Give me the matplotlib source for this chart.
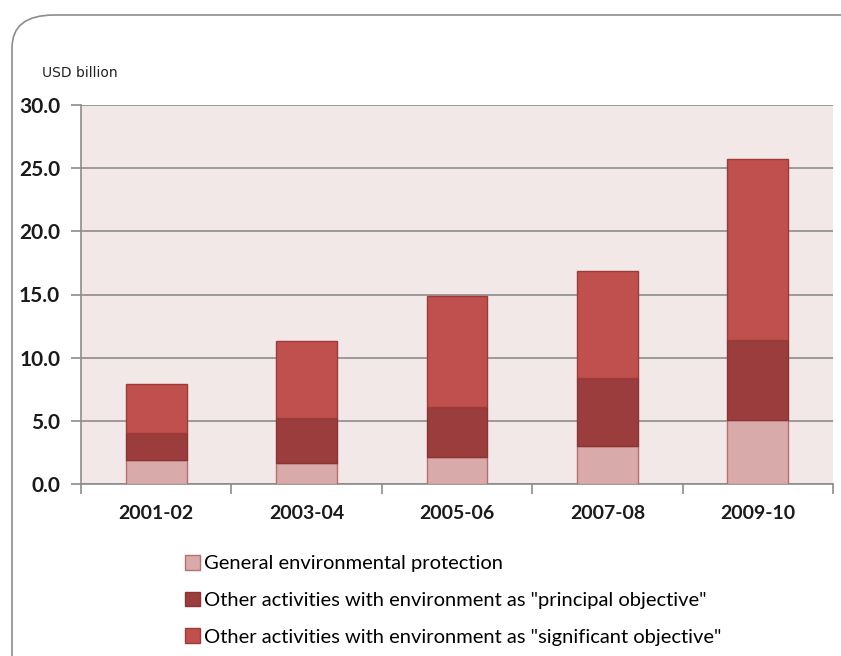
import numpy as np
import matplotlib.pyplot as plt
from matplotlib.patches import FancyBboxPatch, Patch

periods = ["2001-02", "2003-04", "2005-06", "2007-08", "2009-10"]
general = [1.9, 1.7, 2.1, 3.0, 5.1]
principal = [2.1, 3.5, 4.0, 5.4, 6.3]
significant = [3.9, 6.1, 8.8, 8.45, 14.3]
series_names = ["General environmental protection",
                "Other activities with environment as \"principal objective\"",
                "Other activities with environment as \"significant objective\""]
y_ticks = [0, 5, 10, 15, 20, 25, 30]

colors = ["#D9AAAA", "#9B3D3D", "#C0504D"]
edges = ["#B66E6E", "#8A3333", "#9E3A38"]

fig = plt.figure(figsize=(8.41, 6.56), dpi=100)

# rounded outer frame, left/top edges only visible
frame = FancyBboxPatch((12 / 841, -0.2), 1.2, 1 - 15 / 656 + 0.2,
                       boxstyle="round,pad=0,rounding_size=0.05",
                       transform=fig.transFigure, fill=False,
                       edgecolor="#8C8C8C", linewidth=1.2, clip_on=False)
fig.patches.append(frame)

ax = fig.add_axes([81 / 841, 1 - 484 / 656, (833 - 81) / 841, (484 - 105) / 656])
ax.set_facecolor("#F2E8E8")

x = np.arange(len(periods))
width = 0.405
bottom = np.zeros(len(periods))
for vals, c, ec in zip([general, principal, significant], colors, edges):
    ax.bar(x, vals, width, bottom=bottom, color=c, edgecolor=ec, linewidth=1, zorder=3)
    bottom += np.array(vals)

ax.set_xlim(-0.5, len(periods) - 0.5)
ax.set_ylim(0, 30)
ax.set_yticks(y_ticks)
ax.set_yticklabels([f"{v:.1f}" for v in y_ticks], fontsize=15, fontweight="bold",
                   family="Lato", color="#1a1a1a")
ax.yaxis.grid(True, color="#8C8C8C", linewidth=1.2, zorder=1)
ax.set_axisbelow(True)

# category labels centred, tick marks at boundaries
ax.set_xticks(x)
ax.set_xticklabels(periods, fontsize=14, family="Lato", fontweight="bold", color="#1a1a1a")
ax.tick_params(axis="x", length=0, pad=15)
ax.set_xticks(np.arange(len(periods) + 1) - 0.5, minor=True)
ax.tick_params(axis="x", which="minor", length=7, color="#8C8C8C", width=1.2)
ax.tick_params(axis="y", length=7, color="#8C8C8C", width=1.2, pad=8)

for side in ["top", "right"]:
    ax.spines[side].set_visible(False)
for side in ["left", "bottom"]:
    ax.spines[side].set_color("#8C8C8C")
    ax.spines[side].set_linewidth(1.2)

fig.text(42 / 841, 1 - 73 / 656, "USD billion", fontsize=10, family="DejaVu Sans",
         va="center", ha="left", color="#222222")

handles = [Patch(facecolor=c, edgecolor=ec) for c, ec in zip(colors, edges)]
fig.legend(handles, series_names, loc="upper left",
           bbox_to_anchor=(177 / 841, 1 - 547 / 656), frameon=False,
           prop={"family": "Lato", "size": 14.5}, handlelength=0.75, handleheight=0.75,
           handletextpad=0.2, labelspacing=0.95, borderaxespad=0)

fig.savefig("out.png", dpi=100)
